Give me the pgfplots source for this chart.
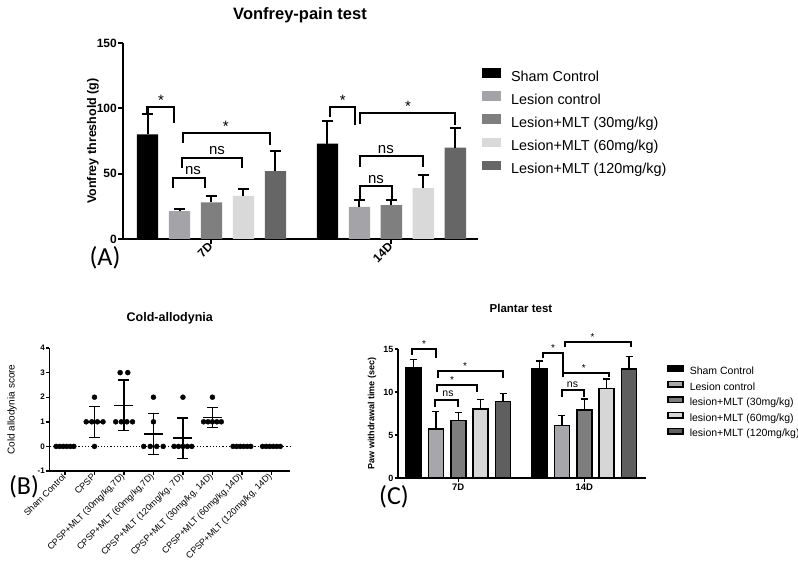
\documentclass[border=0pt]{standalone}
\usepackage{fontspec}
\setmainfont{Liberation Sans}
\newfontfamily\panelfont{Carlito}
\usepackage{pgfplots}
\usepackage{pgfplotstable}
\pgfplotsset{compat=1.18}
\definecolor{gL}{HTML}{A3A3A8}
\definecolor{gM}{HTML}{7F7F7F}
\definecolor{gP}{HTML}{D9D9D9}
\definecolor{gD}{HTML}{666666}
\definecolor{cL}{HTML}{A6A6AB}
\definecolor{cM}{HTML}{7D7D7D}
\definecolor{cP}{HTML}{D6D6D6}
\definecolor{cD}{HTML}{5F5F5F}
\newcommand{\fs}[1]{\fontsize{#1}{#1}\selectfont}
% bracket: x1 x2 ytop yleft yright linewidth
\newcommand{\brk}[6]{\draw[line width=#6, black] (axis cs:#1,#4) -- (axis cs:#1,#3) -- (axis cs:#2,#3) -- (axis cs:#2,#5);}

% Panel A data: x value err(plus)
\pgfplotstableread{
x y e
0 80 15.6
5.625 73 17
}\AShamT
\pgfplotstableread{
x y e
1 21.4 1.6
6.625 24.5 5.5
}\ALesT
\pgfplotstableread{
x y e
2 28 5
7.625 26 4
}\AThirtyT
\pgfplotstableread{
x y e
3 33 5
8.625 39 10
}\ASixtyT
\pgfplotstableread{
x y e
4 52 15
9.625 70 15
}\AOneTwentyT

% Panel C data
\pgfplotstableread{
x y e
0 12.8 1.0
5.625 12.7 0.9
}\CShamT
\pgfplotstableread{
x y e
1 5.7 2.0
6.625 6.1 1.2
}\CLesT
\pgfplotstableread{
x y e
2 6.7 0.9
7.625 7.9 1.3
}\CThirtyT
\pgfplotstableread{
x y e
3 8.0 1.1
8.625 10.4 1.1
}\CSixtyT
\pgfplotstableread{
x y e
4 8.9 0.9
9.625 12.7 1.4
}\COneTwentyT

% Panel B: group means and SD
\pgfplotstableread{
x y e
0 0 0
1 1.0 0.632
2 1.667 1.033
3 0.5 0.837
4 0.333 0.816
5 1.167 0.408
6 0 0
7 0 0
}\BMeanT

\begin{document}
\begin{tikzpicture}
\useasboundingbox (0pt,0pt) rectangle (798pt,-561pt);

%================ Panel A ================
\begin{axis}[
  at={(123pt,-239pt)}, anchor=south west,
  scale only axis, width=355pt, height=196pt,
  xmin=-0.766, xmax=10.33, ymin=0, ymax=150,
  clip=false,
  axis x line*=bottom, axis y line*=left,
  axis line style={line width=2pt, black},
  tick align=outside, major tick length=5pt,
  tick style={line width=2pt, black},
  ytick={0,50,100,150}, yticklabels={0,50,100,150},
  xtick={2,7.625}, xticklabels={7D,14D},
  yticklabel style={font=\bfseries\fs{12}, inner sep=1pt},
  xticklabel style={font=\bfseries\fs{12}, rotate=45, anchor=east, inner sep=1pt},
  ylabel={Vonfrey threshold (g)},
  ylabel style={font=\bfseries\fs{12.5}, at={(axis description cs:-0.0845,0.5)}, anchor=center},
  title={Vonfrey-pain test},
  title style={font=\bfseries\fs{16.5}, at={(axis description cs:0.4986,1.112)}, anchor=center},
  legend style={at={(axis description cs:1.011,0.872)}, anchor=north west, draw=none, fill=none,
    font=\fs{14.4}, row sep=6pt, inner sep=0pt,
    nodes={inner sep=1pt, text height=10.2pt, text depth=3pt},
    /tikz/every odd column/.append style={column sep=9pt}},
  legend cell align=left,
  legend image code/.code={\fill[#1] (0pt,0pt) rectangle (19pt,9.5pt);},
  every axis plot/.append style={ybar, bar width=0.67, bar shift=0pt, draw=none,
    error bars/y dir=plus, error bars/y explicit,
    error bars/error bar style={line width=2pt, black},
    error bars/error mark options={rotate=90, mark size=5.5pt, line width=2pt, black}},
]
\addplot[fill=black] table[x=x, y=y, y error=e] {\AShamT};
\addplot[fill=gL] table[x=x, y=y, y error=e] {\ALesT};
\addplot[fill=gM] table[x=x, y=y, y error=e] {\AThirtyT};
\addplot[fill=gP] table[x=x, y=y, y error=e] {\ASixtyT};
\addplot[fill=gD] table[x=x, y=y, y error=e] {\AOneTwentyT};
\legend{Sham Control, Lesion control, Lesion+MLT (30mg/kg), Lesion+MLT (60mg/kg), Lesion+MLT (120mg/kg)}
% significance brackets
\brk{0.0}{0.83}{101}{95.6}{89}{2.3pt}
\brk{1.11}{3.83}{81}{73.5}{72}{2.3pt}
\brk{1.08}{2.95}{62}{54}{54}{2.3pt}
\brk{0.8}{1.8}{46.7}{39}{39}{2.3pt}
\brk{5.70}{6.48}{101}{93}{87}{2.3pt}
\brk{6.64}{9.61}{96.4}{88}{87}{2.3pt}
\brk{6.64}{8.61}{63.5}{55}{55}{2.3pt}
\brk{6.64}{7.64}{40.5}{30}{30}{2.3pt}
\node[anchor=base, font=\fs{15}, inner sep=0pt, yshift=2pt] at (axis cs:0.42,101) {*};
\node[anchor=base, font=\fs{15}, inner sep=0pt, yshift=2pt] at (axis cs:2.45,81) {*};
\node[anchor=base, font=\fs{15}, inner sep=0pt, yshift=3pt] at (axis cs:2.17,62) {ns};
\node[anchor=base, font=\fs{15}, inner sep=0pt, yshift=3pt] at (axis cs:1.42,46.7) {ns};
\node[anchor=base, font=\fs{15}, inner sep=0pt, yshift=2pt] at (axis cs:6.1,101) {*};
\node[anchor=base, font=\fs{15}, inner sep=0pt, yshift=2pt] at (axis cs:8.14,96.4) {*};
\node[anchor=base, font=\fs{15}, inner sep=0pt, yshift=3pt] at (axis cs:7.45,63.5) {ns};
\node[anchor=base, font=\fs{15}, inner sep=0pt, yshift=3pt] at (axis cs:7.14,40.5) {ns};
\end{axis}

%================ Panel B ================
\begin{axis}[
  at={(49.5pt,-471pt)}, anchor=south west,
  scale only axis, width=240.5pt, height=123pt,
  xmin=-0.525, xmax=7.63, ymin=-1, ymax=4,
  clip=false,
  axis x line*=bottom, axis y line*=left,
  axis line style={line width=1.4pt, black},
  tick align=outside, major tick length=3.5pt,
  tick style={line width=1.4pt, black},
  ytick={-1,0,1,2,3,4}, yticklabels={-1,0,1,2,3,4},
  xtick={0,...,7},
  xticklabels={Sham Control, CPSP, {CPSP+MLT (30mg/kg,7D)}, {CPSP+MLT (60mg/kg,7D)}, {CPSP+MLT (120mg/kg, 7D)}, {CPSP+MLT (30mg/kg, 14D)}, {CPSP+MLT (60mg/kg,14D)}, {CPSP+MLT (120mg/kg, 14D)}},
  yticklabel style={font=\bfseries\fs{8}, inner sep=1pt},
  xticklabel style={font=\fs{9}, rotate=45, anchor=east, inner sep=1pt},
  ylabel={Cold allodynia score},
  ylabel style={font=\fs{10}, at={(axis description cs:-0.156,0.5)}, anchor=center},
  title={Cold-allodynia},
  title style={font=\bfseries\fs{12.5}, at={(axis description cs:0.5,1.195)}, anchor=center},
]
\addplot[black, dotted, line width=1.2pt] coordinates {(-0.525,0) (7.63,0)};
\addplot[only marks, mark=*, mark size=2.5pt, black] coordinates {
(-0.3,0) (-0.18,0) (-0.06,0) (0.06,0) (0.18,0) (0.3,0)
(1,2) (0.72,1) (0.91,1) (1.1,1) (1.29,1) (1,0)
(1.87,3) (2.13,3) (1.72,1) (1.91,1) (2.1,1) (2.29,1)
(3,2) (3,1) (2.67,0) (2.89,0) (3.11,0) (3.33,0)
(4,2) (3.7,0) (3.85,0) (4,0) (4.15,0) (4.3,0)
(5,2) (4.7,1) (4.85,1) (5,1) (5.15,1) (5.3,1)
(5.7,0) (5.82,0) (5.94,0) (6.06,0) (6.18,0) (6.3,0)
(6.7,0) (6.82,0) (6.94,0) (7.06,0) (7.18,0) (7.3,0)
};
\addplot[only marks, black, mark=-, mark size=9.5pt, mark options={line width=1.5pt},
  error bars/.cd, y dir=both, y explicit,
  error bar style={line width=1.3pt, black},
  error mark options={rotate=90, mark size=5.5pt, line width=1.3pt, black}]
  table[x=x, y=y, y error=e] {\BMeanT};
\end{axis}

%================ Panel C ================
\begin{axis}[
  at={(398pt,-478pt)}, anchor=south west,
  scale only axis, width=248pt, height=129pt,
  xmin=-0.69, xmax=10.38, ymin=0, ymax=15,
  clip=false,
  axis x line*=bottom, axis y line*=left,
  axis line style={line width=1.5pt, black},
  tick align=outside, major tick length=3.5pt,
  tick style={line width=1.5pt, black},
  ytick={0,5,10,15}, yticklabels={0,5,10,15},
  xtick={2,7.625}, xticklabels={7D,14D},
  yticklabel style={font=\bfseries\fs{9}, inner sep=1pt},
  xticklabel style={font=\bfseries\fs{9.5}, inner sep=2pt},
  ylabel={Paw withdrawal time (sec)},
  ylabel style={font=\bfseries\fs{9}, at={(axis description cs:-0.105,0.5)}, anchor=center},
  title={Plantar test},
  title style={font=\bfseries\fs{11.5}, at={(axis description cs:0.496,1.272)}, anchor=center},
  legend style={at={(axis description cs:1.085,0.875)}, anchor=north west, draw=none, fill=none,
    font=\fs{10.5}, row sep=2.8pt, inner sep=0pt,
    nodes={inner sep=1pt, text height=7.6pt, text depth=2.4pt},
    /tikz/every odd column/.append style={column sep=5pt}},
  legend cell align=left,
  legend image code/.code={\draw[#1] (0pt,0.5pt) rectangle (15pt,6pt);},
  every axis plot/.append style={ybar, bar width=0.67, bar shift=0pt, draw=black, line width=1.5pt,
    error bars/y dir=plus, error bars/y explicit,
    error bars/error bar style={line width=1.3pt, black},
    error bars/error mark options={rotate=90, mark size=3.5pt, line width=1.3pt, black}},
]
\addplot[fill=black] table[x=x, y=y, y error=e] {\CShamT};
\addplot[fill=cL] table[x=x, y=y, y error=e] {\CLesT};
\addplot[fill=cM] table[x=x, y=y, y error=e] {\CThirtyT};
\addplot[fill=cP] table[x=x, y=y, y error=e] {\CSixtyT};
\addplot[fill=cD] table[x=x, y=y, y error=e] {\COneTwentyT};
\legend{Sham Control, Lesion control, lesion+MLT (30mg/kg), lesion+MLT (60mg/kg), lesion+MLT (120mg/kg)}
\brk{-0.07}{1.0}{15.0}{14.3}{14.0}{1.8pt}
\brk{1.09}{4.0}{12.4}{11.6}{11.6}{1.8pt}
\brk{1.05}{2.83}{10.8}{10.0}{10.0}{1.8pt}
\brk{0.96}{1.99}{9.07}{8.3}{8.3}{1.8pt}
\brk{5.78}{6.67}{14.5}{13.9}{12.2}{1.8pt}
\brk{6.76}{9.7}{15.8}{15.2}{15.2}{1.8pt}
\brk{6.67}{8.73}{12.2}{11.7}{11.7}{1.8pt}
\brk{6.63}{7.62}{10.2}{9.4}{9.4}{1.8pt}
\node[anchor=base, font=\fs{10}, inner sep=0pt, yshift=1.5pt] at (axis cs:0.47,15.0) {*};
\node[anchor=base, font=\fs{10}, inner sep=0pt, yshift=1.5pt] at (axis cs:2.3,12.4) {*};
\node[anchor=base, font=\fs{10}, inner sep=0pt, yshift=1.5pt] at (axis cs:1.72,10.8) {*};
\node[anchor=base, font=\fs{10.5}, inner sep=0pt, yshift=3pt] at (axis cs:1.54,9.07) {ns};
\node[anchor=base, font=\fs{10}, inner sep=0pt, yshift=1.5pt] at (axis cs:6.23,14.5) {*};
\node[anchor=base, font=\fs{10}, inner sep=0pt, yshift=1.5pt] at (axis cs:8.0,15.8) {*};
\node[anchor=base, font=\fs{10}, inner sep=0pt, yshift=1.5pt] at (axis cs:7.6,12.2) {*};
\node[anchor=base, font=\fs{10.5}, inner sep=0pt, yshift=3pt] at (axis cs:7.1,10.2) {ns};
\end{axis}

% panel labels
\node[font=\panelfont\fs{26}, inner sep=0pt] at (105pt,-258pt) {(A)};
\node[font=\panelfont\fs{26}, inner sep=0pt] at (24pt,-487pt) {(B)};
\node[font=\panelfont\fs{26}, inner sep=0pt] at (394pt,-497pt) {(C)};
\end{tikzpicture}
\end{document}
